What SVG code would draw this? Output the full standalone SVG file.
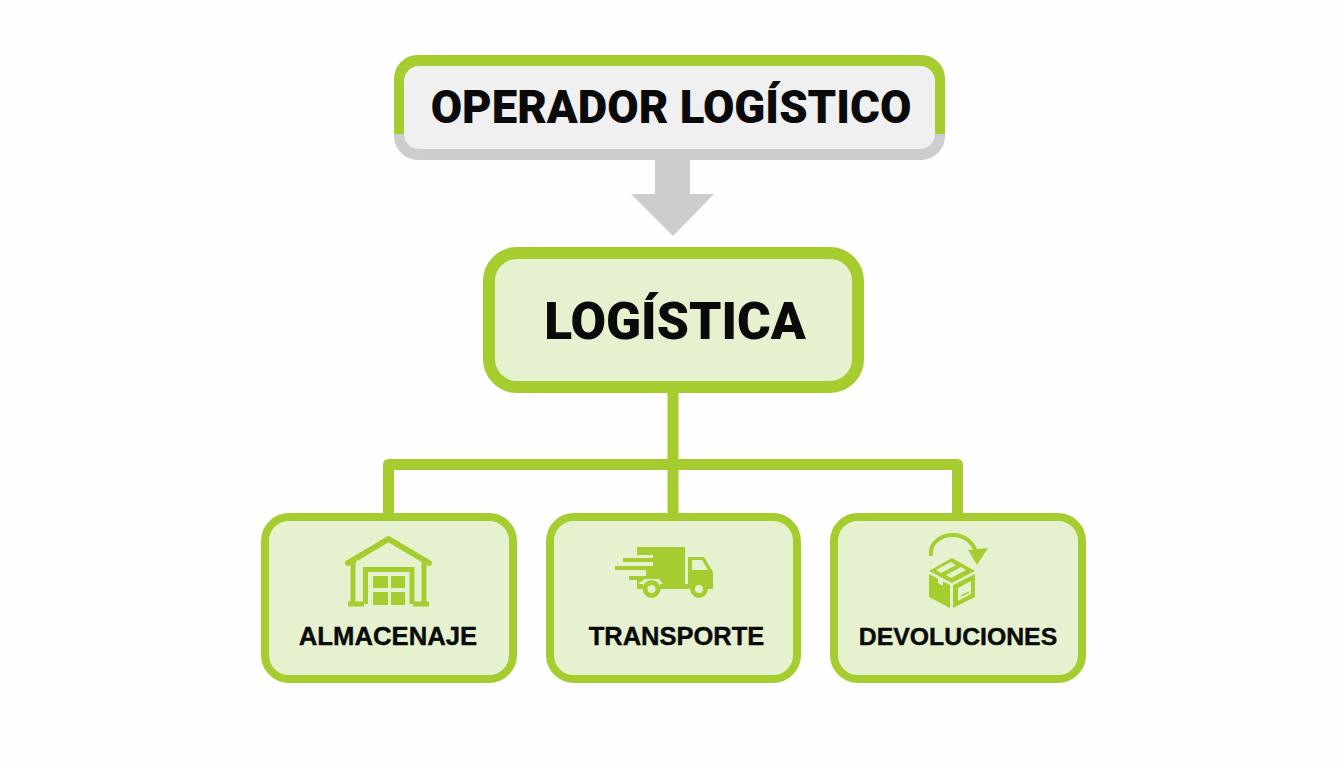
<svg xmlns="http://www.w3.org/2000/svg" width="1344" height="768" viewBox="0 0 1344 768">
<style>
.t{font-family:Roboto,"Liberation Sans",sans-serif;font-weight:900;fill:#0a0a0a;text-anchor:middle}
.s{font-family:"Liberation Sans",Arial,sans-serif;font-weight:700;fill:#0a0a0a;text-anchor:middle;stroke:#0a0a0a;stroke-width:.4}
.box{fill:#e6f2cf;stroke:#a6cd30}
.g{fill:#a6cd30}
.l{fill:none;stroke:#a6cd30}
.w{fill:#e6f2cf}
</style>
<rect width="1344" height="768" fill="#fefefe"/>
<g id="connectors">
<path d="M655 158H690V194H714L673 236L631 194H655Z" fill="#cdcdcf"/>
<path d="M673 390V515M388.500 515V464.500H957.500V515" fill="none" stroke="#a6cd30" stroke-width="11" stroke-linejoin="round"/>
</g>
<g id="operador">
<rect x="394" y="55" width="551" height="105" rx="24" fill="#cdcdcf"/>
<path d="M394 134V79a24 24 0 0 1 24-24H921a24 24 0 0 1 24 24V134Z" fill="#a6cd30"/>
<rect x="404" y="66" width="531" height="83" rx="15" fill="#f0f0f1"/>
<text class="t" x="671" y="122.500" font-size="45.500">OPERADOR LOGÍSTICO</text>
</g>
<g id="logistica">
<rect class="box" x="489" y="253" width="369" height="134" rx="28" stroke-width="12"/>
<text class="t" x="675" y="338.500" font-size="51.500">LOGÍSTICA</text>
</g>
<g id="almacenaje">
<rect class="box" x="265" y="517" width="248" height="162" rx="24" stroke-width="8"/>
<path class="l" stroke-width="6" stroke-linecap="round" stroke-linejoin="round" d="M348 563L388.500 539L429 563"/>
<path class="l" stroke-width="5" d="M353 561V604M424 561V604M348 604H364M413 604H429M365.500 604V569.500H412V604"/>
<path class="g" d="M373 576H388V588H373ZM391 576H405V588H391ZM373 592H388V605H373ZM391 592H405V605H391Z"/>
<text class="s" x="388" y="645" font-size="25.700">ALMACENAJE</text>
</g>
<g id="transporte">
<rect class="box" x="550" y="517" width="247" height="162" rx="24" stroke-width="8"/>
<path class="g" d="M637 547H685V584H663L659 579H645L638 584H637V580H629V576H646V570H615V566H653V562H623V558H653V555H637Z"/>
<path class="g" d="M688 557H704L713 572V589H707C705 581 692 581 690 589H660V584H688Z"/>
<path class="w" d="M692 560H702L708 570H692Z"/>
<rect class="g" x="637" y="584" width="6" height="5"/>
<circle cx="651.500" cy="589" r="6.500" fill="#e6f2cf" stroke="#a6cd30" stroke-width="5"/>
<circle cx="699" cy="589" r="6.500" fill="#e6f2cf" stroke="#a6cd30" stroke-width="5"/>
<text class="s" x="676.500" y="645" font-size="25.500">TRANSPORTE</text>
</g>
<g id="devoluciones">
<rect class="box" x="834" y="517" width="248" height="162" rx="24" stroke-width="8"/>
<path class="l" stroke-width="4" d="M931 556C929 541 944 534 955 535C965 536 972 542 976 551"/>
<path class="g" d="M968 550L988 548L977 565Z"/>
<path class="g" d="M952 558L975 571L952 583L929 571Z"/>
<path class="g" d="M929 574L950 585V608L929 597Z"/>
<path class="g" d="M953 585L975 574V597L953 608Z"/>
<path class="w" d="M936 570L951 562L956 565L941 573ZM946 575L961 567L966 570L951 578ZM938 578L943 581V586L938 583ZM958 588L971 581V594L958 601Z"/>
<path class="l" stroke-width="1.500" d="M961 596L969 592"/>
<text class="s" x="958" y="645" font-size="24.800">DEVOLUCIONES</text>
</g>
</svg>
